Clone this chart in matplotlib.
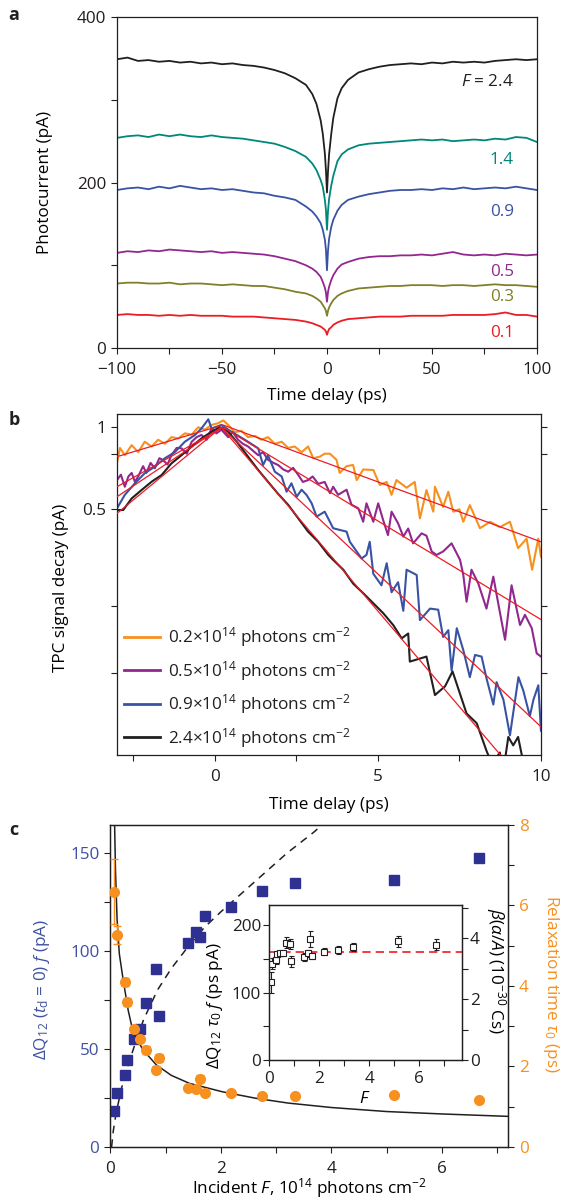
import matplotlib

matplotlib.use("Agg")
import matplotlib.pyplot as plt
from matplotlib.ticker import NullLocator


# ---- panel a: photocurrent vs time delay -----------------------------------
TIME_A = [-100, -95, -90, -85, -80, -75, -70, -65, -60, -55, -50, -45, -40, -35, -30,
          -25, -20, -15, -10, -7, -5, -3, -2, -1, -0.5, 0, 0.5, 1, 2, 3, 5, 7, 10, 15,
          20, 25, 30, 35, 40, 45, 50, 55, 60, 65, 70, 75, 80, 85, 90, 95, 100]
CURRENT_24 = [349, 351, 347, 348, 346, 347, 345, 346, 344, 345, 343, 344, 342, 341, 339,
              336, 332, 326, 318, 307, 295, 275, 259, 235, 215, 188, 214, 234, 258, 278,
              302, 314, 324, 333, 337, 340, 342, 343, 344, 343, 345, 344, 346, 345, 346,
              345, 347, 348, 349, 348, 349]
CURRENT_14 = [254, 256, 257, 255, 258, 256, 258, 256, 255, 257, 255, 254, 253, 251, 249,
              247, 243, 238, 231, 223, 215, 203, 195, 179, 167, 143, 166, 180, 196, 208,
              226, 234, 240, 245, 247, 248, 249, 250, 251, 252, 251, 252, 250, 251, 252,
              251, 253, 252, 255, 254, 249]
CURRENT_09 = [191, 193, 194, 192, 195, 193, 196, 194, 192, 193, 191, 192, 190, 188, 187,
              184, 182, 179, 171, 165, 159, 151, 143, 131, 119, 94, 118, 132, 146, 155,
              166, 173, 179, 183, 186, 188, 190, 191, 191, 192, 191, 193, 192, 194, 192,
              193, 194, 193, 195, 193, 191]
CURRENT_05 = [115, 117, 116, 118, 117, 119, 118, 117, 116, 117, 115, 116, 115, 114, 113,
              111, 108, 105, 100, 96, 92, 86, 80, 73, 67, 56, 68, 74, 82, 88,
              96, 101, 104, 108, 110, 111, 111, 112, 112, 113, 112, 114, 116, 113, 112,
              113, 112, 114, 113, 112, 113]
CURRENT_03 = [78, 79, 79, 78, 78, 79, 77, 78, 78, 77, 76, 77, 76, 75, 75,
              73, 71, 68, 66, 63, 60, 56, 52, 48, 45, 39, 45, 49, 54, 58,
              63, 66, 69, 72, 73, 74, 75, 75, 76, 76, 76, 75, 76, 76, 75,
              76, 77, 76, 76, 75, 74]
CURRENT_01 = [40, 41, 40, 40, 39, 40, 39, 40, 39, 39, 39, 38, 38, 38, 37,
              36, 35, 34, 32, 30, 28, 26, 24, 22, 20, 16, 20, 23, 25, 28,
              31, 33, 35, 36, 37, 38, 38, 38, 39, 39, 39, 39, 40, 40, 40,
              40, 41, 43, 40, 40, 38]
FLUENCE_LABELS_A = ["$F$ = 2.4", "1.4", "0.9", "0.5", "0.3", "0.1"]
LABEL_LEVELS_A = [321, 227, 164, 92, 62, 18]

# ---- panel b: normalised TPC decay -------------------------------------------
TIME_02 = [-3.0, -2.91, -2.76, -2.55, -2.35, -2.15, -1.94, -1.74, -1.53, -1.33, -1.12,
           -0.92, -0.71, -0.51, -0.31, -0.1, 0.1, 0.26, 0.41, 0.61, 0.82, 1.02, 1.23,
           1.43, 1.63, 1.84, 2.05, 2.25, 2.45, 2.66, 2.86, 3.02, 3.22, 3.37, 3.53, 3.73,
           3.83, 4.04, 4.24, 4.35, 4.55, 4.86, 5.06, 5.27, 5.42, 5.57, 5.88, 6.13, 6.29,
           6.49, 6.70, 6.75, 7.0, 7.16, 7.31, 7.5, 7.62, 7.82, 8.13, 8.44, 8.74, 9.05,
           9.3, 9.56, 9.73, 9.92, 10.0]
SIGNAL_02 = [0.74, 0.84, 0.79, 0.86, 0.81, 0.885, 0.85, 0.90, 0.87, 0.92, 0.91,
             0.95, 0.94, 1.0, 0.98, 1.02, 1.035, 1.06, 1.02, 0.96, 0.97, 0.92, 0.93,
             0.90, 0.92, 0.87, 0.885, 0.84, 0.85, 0.81, 0.85, 0.77, 0.78, 0.80, 0.80, 0.76,
             0.68, 0.72, 0.727, 0.64, 0.70, 0.697, 0.614, 0.63, 0.565, 0.64, 0.60, 0.63, 0.463,
             0.588, 0.49, 0.605, 0.51, 0.58, 0.49, 0.50, 0.45, 0.518, 0.426, 0.45, 0.43, 0.45,
             0.36, 0.39, 0.30, 0.39, 0.335]
TIME_05 = [-3.0, -2.88, -2.76, -2.65, -2.55, -2.45, -2.35, -2.2, -2.1, -1.97, -1.84,
           -1.7, -1.59, -1.45, -1.33, -1.17, -1.02, -0.86, -0.71, -0.56, -0.41, -0.25,
           -0.1, 0.05, 0.2, 0.41, 0.55, 0.71, 0.86, 1.02, 1.17, 1.33, 1.48, 1.63, 1.8,
           1.94, 2.1, 2.25, 2.4, 2.56, 2.7, 2.86, 3.0, 3.17, 3.37, 3.53, 3.63, 3.78, 4.04,
           4.19, 4.40, 4.55, 4.65, 4.86, 5.01, 5.16, 5.31, 5.42, 5.62, 5.78, 5.93, 6.08,
           6.34, 6.49, 6.65, 6.8, 7.0, 7.26, 7.52, 7.62, 7.72, 7.87, 8.08, 8.33, 8.54,
           8.69, 8.9, 9.1, 9.36, 9.51, 9.72, 9.87, 10.0]
SIGNAL_05 = [0.64, 0.67, 0.605, 0.66, 0.68, 0.63, 0.66, 0.72, 0.68, 0.74, 0.707,
             0.77, 0.758, 0.73, 0.79, 0.84, 0.837, 0.80, 0.885, 0.92, 0.937, 0.90,
             0.99, 0.95, 0.98, 0.92, 0.96, 0.90, 0.87, 0.85, 0.82, 0.79, 0.81, 0.76, 0.74,
             0.727, 0.70, 0.687, 0.71, 0.668, 0.63, 0.64, 0.66, 0.62, 0.63, 0.573, 0.605,
             0.565, 0.59, 0.52, 0.504, 0.45, 0.526, 0.45, 0.526, 0.457, 0.402, 0.49, 0.444,
             0.397, 0.425, 0.375, 0.408, 0.40, 0.35, 0.34, 0.35, 0.375, 0.326, 0.287, 0.229,
             0.30, 0.267, 0.216, 0.283, 0.226, 0.166, 0.263, 0.188, 0.205, 0.183, 0.148, 0.144]
TIME_09 = [-3.0, -2.76, -2.45, -2.15, -1.84, -1.53, -1.23, -0.92, -0.61, -0.41, -0.2,
           -0.1, 0.2, 0.51, 0.92, 1.33, 1.48, 1.63, 1.84, 2.05, 2.2, 2.35, 2.51, 2.66,
           2.81, 2.97, 3.12, 3.37, 3.63, 3.83, 4.04, 4.14, 4.35, 4.5, 4.65, 4.75, 4.86,
           5.11, 5.27, 5.42, 5.62, 5.78, 5.88, 6.19, 6.29, 6.6, 6.85, 7.0, 7.16, 7.26,
           7.42, 7.62, 7.82, 7.98, 8.18, 8.33, 8.54, 8.64, 8.85, 9.05, 9.31, 9.46, 9.66,
           9.77, 9.92, 10.0]
SIGNAL_09 = [0.504, 0.565, 0.623, 0.678, 0.717, 0.77, 0.81, 0.885, 0.937, 0.99, 1.07,
             0.99, 1.02, 0.963, 0.90, 0.837, 0.727, 0.79, 0.687, 0.66, 0.58, 0.623, 0.556,
             0.59, 0.565, 0.526, 0.47, 0.49, 0.426, 0.42, 0.414, 0.38, 0.35, 0.33, 0.34,
             0.38, 0.29, 0.263, 0.317, 0.248, 0.27, 0.212, 0.30, 0.287, 0.196, 0.216, 0.214,
             0.17, 0.18, 0.128, 0.183, 0.152, 0.121, 0.146, 0.144, 0.12, 0.096, 0.116, 0.10,
             0.074, 0.121, 0.108, 0.087, 0.10, 0.113, 0.077]
TIME_24 = [-3.0, -2.81, -2.55, -2.25, -1.94, -1.63, -1.33, -1.02, -0.71, -0.41, -0.1,
           0.15, 0.41, 0.71, 1.02, 1.33, 1.63, 1.94, 2.25, 2.56, 2.86, 3.17, 3.48, 3.63,
           3.94, 4.24, 4.55, 4.86, 5.16, 5.47, 5.73, 5.93, 5.98, 6.49, 6.75, 7.06, 7.29,
           7.72, 8.03, 8.33, 8.5, 8.74, 8.85, 9.0, 9.15, 9.3, 9.51]
SIGNAL_24 = [0.497, 0.497, 0.548, 0.588, 0.631, 0.668, 0.737, 0.79, 0.849, 0.91, 0.963,
             1.0, 0.963, 0.873, 0.78, 0.697, 0.631, 0.57, 0.519, 0.463, 0.414, 0.38, 0.34,
             0.326, 0.30, 0.267, 0.246, 0.226, 0.208, 0.188, 0.168, 0.175, 0.138, 0.144,
             0.104, 0.112, 0.127, 0.089, 0.082, 0.065, 0.058, 0.064, 0.055, 0.073, 0.068,
             0.073, 0.055]
FIT_TIME_02, FIT_VALUE_02 = [-3.0, 0.25, 10.0], [0.78, 1.02, 0.38]
FIT_TIME_05, FIT_VALUE_05 = [-3.0, 0.25, 10.0], [0.605, 1.0, 0.197]
FIT_TIME_09, FIT_VALUE_09 = [-3.0, 0.2, 10.0], [0.556, 1.0, 0.0796]
FIT_TIME_24, FIT_VALUE_24 = [-3.0, 0.2, 9.0], [0.483, 1.0, 0.058]
LEGEND_LABELS_B = [
    r"0.2$\times$10$^{14}$ photons cm$^{-2}$",
    r"0.5$\times$10$^{14}$ photons cm$^{-2}$",
    r"0.9$\times$10$^{14}$ photons cm$^{-2}$",
    r"2.4$\times$10$^{14}$ photons cm$^{-2}$",
]

# ---- panel c: amplitude and relaxation time vs fluence ------------------------
FLUENCE = [0.065, 0.12, 0.27, 0.30, 0.42, 0.54, 0.65, 0.82, 0.87, 1.40, 1.54, 1.63,
           1.72, 2.18, 2.74, 3.35, 5.13, 6.67]
DELTA_Q = [18.4, 27.6, 36.5, 44.3, 54.9, 60.0, 73.6, 90.8, 66.8, 104.0, 109.6, 106.9,
           117.8, 122.4, 130.4, 134.5, 136.2, 147.4]
TAU = [6.34, 5.27, 4.10, 3.61, 2.92, 2.67, 2.40, 1.92, 2.20, 1.47, 1.45, 1.70,
       1.33, 1.33, 1.26, 1.26, 1.30, 1.16]
TAU_ERR = [0.81, 0.23, 0.09, 0.10, 0.07, 0.07, 0.10, 0.08, 0.10, 0.06, 0.06, 0.08,
           0.05, 0.05, 0.05, 0.05, 0.05, 0.05]
PRODUCT = [115, 143, 148, 157, 158, 158, 174, 172, 146, 152, 158, 179,
           154, 160.5, 163, 167, 176, 171]
PRODUCT_ERR = [16, 8, 5, 5, 4, 4, 8, 7, 8, 6, 5, 12, 5, 5, 6, 6, 8, 8]
PRODUCT_MEAN = 160
DQ_GUIDE_F = [0.02, 0.05, 0.1, 0.2, 0.3, 0.45, 0.6, 0.85, 1.1, 1.4, 1.7, 2.0, 2.4,
              2.8, 3.2, 3.7, 3.85]
DQ_GUIDE = [0, 8, 17, 30, 40, 53, 65, 80, 91, 102, 112, 120, 130, 140, 150, 161, 165]
TAU_FIT_F = [0.075, 0.09, 0.12, 0.16, 0.23, 0.32, 0.41, 0.59, 0.83, 1.1, 1.43, 2.03,
             2.63, 3.22, 4.0, 5.0, 6.0, 7.2]
TAU_FIT = [8.0, 6.9, 5.64, 4.8, 4.15, 3.4, 2.85, 2.41, 2.04, 1.78, 1.58, 1.37,
           1.21, 1.09, 0.98, 0.88, 0.82, 0.76]

DARK = "#231f20"
TEAL = "#00877b"
BLUE = "#3953a4"
PURPLE = "#92278f"
OLIVE = "#80802a"
RED = "#ed1c24"
ORANGE = "#f7901e"
NAVY = "#2e3192"
AXIS_BLUE = "#3f51a3"
FONT_SIZE = 12.3
MINUS = "\u2212"

plt.rcParams["font.family"] = ["Open Sans", "DejaVu Sans"]
plt.rcParams["mathtext.fontset"] = "custom"
plt.rcParams["mathtext.rm"] = "Open Sans"
plt.rcParams["mathtext.it"] = "Open Sans:italic"
plt.rcParams["mathtext.bf"] = "Open Sans:bold"
plt.rcParams["font.size"] = FONT_SIZE
plt.rcParams["text.color"] = DARK


def style_axes(ax, pad=4):
    for spine in ax.spines.values():
        spine.set_linewidth(0.9)
        spine.set_color(DARK)
    ax.tick_params(direction="out", length=4, width=0.8, colors=DARK,
                   labelsize=FONT_SIZE, pad=pad)
    ax.tick_params(axis="x", pad=pad + 2)


def draw_panel_a(fig):
    ax = fig.add_axes([0.2067, 0.7102, 0.742, 0.2756])
    traces = [CURRENT_24, CURRENT_14, CURRENT_09, CURRENT_05, CURRENT_03, CURRENT_01]
    colors = [DARK, TEAL, BLUE, PURPLE, OLIVE, RED]
    for values, color in zip(traces, colors):
        ax.plot(TIME_A, values, color=color, lw=1.3)
    for label, level, color in zip(FLUENCE_LABELS_A, LABEL_LEVELS_A, colors):
        ax.text(89, level, label, color=color, ha="right", va="center", fontsize=FONT_SIZE)
    ax.set_xlim(-100, 100)
    ax.set_ylim(0, 400)
    ax.set_xticks([-100, -75, -50, -25, 0, 25, 50, 75, 100])
    ax.set_xticklabels([MINUS + "100", "", MINUS + "50", "", "0", "", "50", "", "100"])
    ax.set_yticks([0, 100, 200, 300, 400])
    ax.set_yticklabels(["0", "", "200", "", "400"])
    style_axes(ax)
    ax.set_xlabel("Time delay (ps)")
    ax.set_ylabel("Photocurrent (pA)")
    ax.xaxis.set_label_coords(0.5, -0.121)
    ax.yaxis.set_label_coords(-0.152, 0.5)


def draw_panel_b(fig):
    ax = fig.add_axes([0.2067, 0.3714, 0.749, 0.2839])
    traces = [(TIME_02, SIGNAL_02, ORANGE), (TIME_05, SIGNAL_05, PURPLE),
              (TIME_09, SIGNAL_09, BLUE), (TIME_24, SIGNAL_24, DARK)]
    handles = []
    for times, values, color in traces:
        (line,) = ax.plot(times, values, color=color, lw=1.5)
        handles.append(line)
    for times, values in [(FIT_TIME_02, FIT_VALUE_02), (FIT_TIME_05, FIT_VALUE_05),
                          (FIT_TIME_09, FIT_VALUE_09), (FIT_TIME_24, FIT_VALUE_24)]:
        ax.plot(times, values, color=RED, lw=0.9, zorder=5)
    ax.set_yscale("log")
    ax.set_xlim(-3, 10)
    ax.set_ylim(0.0627, 1.119)
    ax.set_xticks([-2.5, 0, 2.5, 5, 7.5, 10])
    ax.set_xticklabels(["", "0", "", "5", "", "10"])
    ax.set_yticks([1, 0.8, 0.5, 0.22, 0.125])
    ax.set_yticklabels(["1", "", "0.5", "", ""])
    ax.yaxis.set_minor_locator(NullLocator())
    style_axes(ax)
    ax.tick_params(axis="y", right=True)
    ax.set_xlabel("Time delay (ps)")
    ax.set_ylabel("TPC signal decay (pA)")
    ax.xaxis.set_label_coords(0.5, -0.123)
    ax.yaxis.set_label_coords(-0.113, 0.49)
    legend = ax.legend(handles, LEGEND_LABELS_B, loc="upper left",
                       bbox_to_anchor=(0.0, 0.40), frameon=False, fontsize=FONT_SIZE,
                       handlelength=2.1, handletextpad=0.5, labelspacing=0.56,
                       borderaxespad=0.0)
    for line in legend.get_lines():
        line.set_linewidth(2.0)


def draw_panel_c(fig):
    ax = fig.add_axes([0.1952, 0.045, 0.7023, 0.2681])
    ax.plot(DQ_GUIDE_F, DQ_GUIDE, color=DARK, lw=1.1, dashes=(5, 4))
    ax.plot(FLUENCE, DELTA_Q, ls="none", marker="s", ms=6.5, color=NAVY, zorder=4)
    ax.set_xlim(0, 7.2)
    ax.set_ylim(0, 164.3)
    ax.set_xticks([0, 1, 2, 3, 4, 5, 6, 7])
    ax.set_xticklabels(["0", "", "2", "", "4", "", "6", ""])
    ax.set_yticks([0, 25, 50, 75, 100, 125, 150])
    ax.set_yticklabels(["0", "", "50", "", "100", "", "150"])
    style_axes(ax)
    ax.tick_params(axis="y", labelcolor=AXIS_BLUE)
    ax.set_xlabel(r"Incident $F$, 10$^{14}$ photons cm$^{-2}$")
    ax.set_ylabel(r"$\Delta$Q$_{12}$ ($t_{\rm d}$ = 0) $f$ (pA)", color=AXIS_BLUE)
    ax.xaxis.set_label_coords(0.5, -0.09)
    ax.yaxis.set_label_coords(-0.147, 0.49)

    ax2 = ax.twinx()
    ax2.plot(TAU_FIT_F, TAU_FIT, color=DARK, lw=1.1)
    ax2.errorbar(FLUENCE, TAU, yerr=TAU_ERR, ls="none", marker="o", ms=7,
                 color=ORANGE, ecolor=ORANGE, elinewidth=1.0, capsize=3, zorder=4)
    ax2.set_ylim(0, 8)
    ax2.set_yticks([0, 1, 2, 3, 4, 5, 6, 7, 8])
    ax2.set_yticklabels(["0", "", "2", "", "4", "", "6", "", "8"])
    style_axes(ax2)
    ax2.tick_params(axis="y", labelcolor=ORANGE)
    ax2.set_ylabel(r"Relaxation time $\tau_0$ (ps)", color=ORANGE, rotation=270)
    ax2.yaxis.set_label_coords(1.133, 0.506)

    inset = fig.add_axes([0.4758, 0.1174, 0.34, 0.129])
    inset.set_zorder(5)
    inset.axhline(PRODUCT_MEAN, color=RED, lw=1.2, dashes=(5, 3))
    inset.errorbar(FLUENCE, PRODUCT, yerr=PRODUCT_ERR, ls="none", marker="s", ms=4,
                   mfc="white", mec=DARK, mew=0.8, ecolor=DARK, elinewidth=0.8,
                   capsize=1.8, zorder=4)
    inset.set_xlim(0, 7.7)
    inset.set_ylim(0, 229.6)
    inset.set_xticks([0, 1, 2, 3, 4, 5, 6, 7])
    inset.set_xticklabels(["0", "", "2", "", "4", "", "6", ""])
    inset.set_yticks([0, 50, 100, 150, 200])
    inset.set_yticklabels(["0", "", "100", "", "200"])
    style_axes(inset, pad=2)
    inset.set_xlabel(r"$F$")
    inset.set_ylabel(r"$\Delta$Q$_{12}$ $\tau_0$ $f$ (ps pA)")
    inset.xaxis.set_label_coords(0.497, -0.2)
    inset.yaxis.set_label_coords(-0.23, 0.35)

    inset2 = inset.twinx()
    inset2.set_zorder(6)
    inset2.set_ylim(0, 5.1)
    inset2.set_yticks([0, 1, 2, 3, 4, 5])
    inset2.set_yticklabels(["0", "", "2", "", "4", ""])
    style_axes(inset2, pad=2)
    inset2.set_ylabel(r"$\beta$($\alpha$/$A$) (10$^{-30}$ Cs)", rotation=270)
    inset2.yaxis.set_label_coords(1.24, 0.576)


def main() -> None:
    fig = plt.figure(figsize=(5.66, 12.01), dpi=100)
    draw_panel_a(fig)
    draw_panel_b(fig)
    draw_panel_c(fig)
    for letter, y_pos in [("a", 15), ("b", 420), ("c", 830)]:
        fig.text(14 / 566, 1 - y_pos / 1201, letter, fontsize=13, fontweight="bold",
                 ha="center", va="center")
    fig.savefig("out.png", dpi=100)
    plt.close(fig)


if __name__ == "__main__":
    main()
